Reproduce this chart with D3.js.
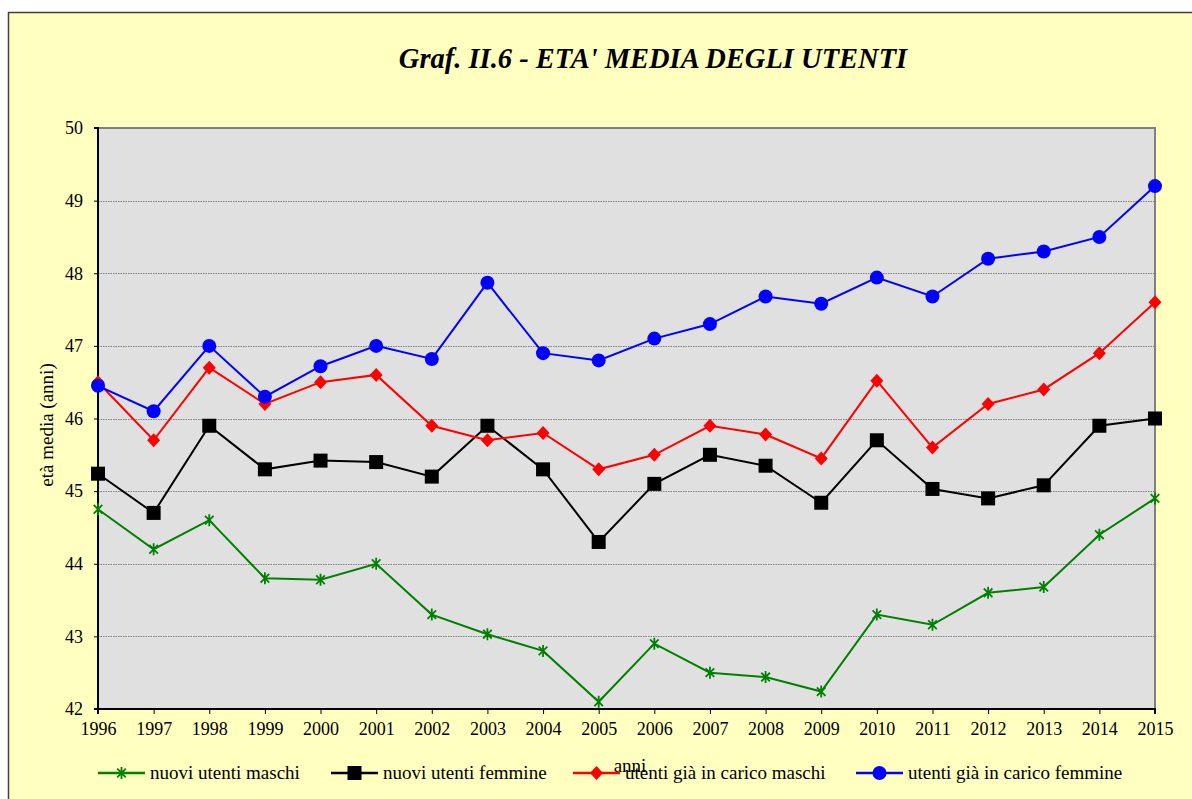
<!DOCTYPE html>
<html>
<head>
<meta charset="utf-8">
<script src="https://cdn.jsdelivr.net/npm/d3@7"></script>
<style>
  html, body { margin: 0; padding: 0; background: #fff; }
  svg { display: block; }
  text { font-family: "Liberation Serif", "Times New Roman", serif; fill: #000; }
</style>
</head>
<body>
<div id="chart"></div>
<script>
(function(d3) {
  'use strict';

  var years = [1996, 1997, 1998, 1999, 2000, 2001, 2002, 2003, 2004, 2005,
               2006, 2007, 2008, 2009, 2010, 2011, 2012, 2013, 2014, 2015];
  var yTicks = [42, 43, 44, 45, 46, 47, 48, 49, 50];

  var seriesNames = ['nuovi utenti maschi', 'nuovi utenti femmine',
                     'utenti già in carico maschi', 'utenti già in carico femmine'];

  var nuoviMaschi = [44.75, 44.2, 44.6, 43.8, 43.78, 44.0, 43.3, 43.03, 42.8, 42.1,
                     42.9, 42.5, 42.44, 42.24, 43.3, 43.16, 43.6, 43.68, 44.4, 44.9];
  var nuoviFemmine = [45.24, 44.7, 45.9, 45.3, 45.42, 45.4, 45.2, 45.9, 45.3, 44.3,
                      45.1, 45.5, 45.35, 44.84, 45.7, 45.03, 44.9, 45.08, 45.9, 46.0];
  var caricoMaschi = [46.5, 45.7, 46.7, 46.2, 46.5, 46.6, 45.9, 45.7, 45.8, 45.3,
                      45.5, 45.9, 45.78, 45.45, 46.52, 45.6, 46.2, 46.4, 46.9, 47.6];
  var caricoFemmine = [46.45, 46.1, 47.0, 46.3, 46.72, 47.0, 46.82, 47.87, 46.9, 46.8,
                       47.1, 47.3, 47.68, 47.58, 47.94, 47.68, 48.2, 48.3, 48.5, 49.2];

  var width = 1192;
  var height = 799;
  var margin = { top: 128, left: 98, right: 37, bottom: 90 };

  var series = [
    { name: seriesNames[0], values: nuoviMaschi, color: '#008000', symbol: 'star' },
    { name: seriesNames[1], values: nuoviFemmine, color: '#000000', symbol: 'square' },
    { name: seriesNames[2], values: caricoMaschi, color: '#ff0000', symbol: 'diamond' },
    { name: seriesNames[3], values: caricoFemmine, color: '#0000ff', symbol: 'circle' }
  ];

  var svg = d3.select('#chart')
    .append('svg')
    .attr('width', width)
    .attr('height', height);

  // chart frame
  svg.append('rect')
    .attr('x', 8.5)
    .attr('y', 12.5)
    .attr('width', width + 20)
    .attr('height', height + 20)
    .attr('fill', '#ffffc0')
    .attr('stroke', '#404040')
    .attr('stroke-width', 1.5);

  var x = d3.scaleLinear()
    .domain([1996, 2015])
    .range([margin.left, width - margin.right]);

  var y = d3.scaleLinear()
    .domain([42, 50])
    .range([height - margin.bottom, margin.top]);

  var x0 = x.range()[0], x1 = x.range()[1];
  var y0 = y.range()[0], y1 = y.range()[1];

  svg.append('rect')
    .attr('x', x0)
    .attr('y', y1)
    .attr('width', x1 - x0)
    .attr('height', y0 - y1)
    .attr('fill', '#e0e0e0');

  // gridlines
  svg.append('g')
    .selectAll('line')
    .data(yTicks.slice(1, -1))
    .enter()
    .append('line')
    .attr('x1', x0)
    .attr('x2', x1)
    .attr('y1', function(d) { return Math.round(y(d)) + 0.5; })
    .attr('y2', function(d) { return Math.round(y(d)) + 0.5; })
    .attr('stroke', '#808080')
    .attr('stroke-width', 1)
    .attr('stroke-dasharray', '1.5,1');

  // top and right border (gray)
  svg.append('path')
    .attr('d', 'M' + x0 + ',' + y1 + 'H' + x1 + 'V' + y0)
    .attr('fill', 'none')
    .attr('stroke', '#808080')
    .attr('stroke-width', 2);

  var xAxis = svg.append('g')
    .attr('transform', 'translate(0,' + y0 + ')')
    .call(d3.axisBottom(x)
      .tickValues(years)
      .tickFormat(d3.format('d'))
      .tickSize(5)
      .tickPadding(8));

  var yAxis = svg.append('g')
    .attr('transform', 'translate(' + x0 + ',0)')
    .call(d3.axisLeft(y)
      .tickValues(yTicks)
      .tickFormat(d3.format('d'))
      .tickSize(4)
      .tickPadding(11));

  [xAxis, yAxis].forEach(function(ax) {
    ax.select('.domain').attr('stroke', '#000').attr('stroke-width', 2);
    ax.selectAll('.tick line').attr('stroke', '#000').attr('stroke-width', 1);
    ax.selectAll('.tick text')
      .style('font-family', '"Liberation Serif", serif')
      .style('font-size', '18px')
      .attr('fill', '#000');
  });
  xAxis.select('.domain').attr('d', 'M' + x0 + ',5V0H' + x1 + 'V5');
  yAxis.select('.domain').attr('d', 'M-4,' + y1 + 'H0V' + y0 + 'H-4');

  function drawMarker(g, s, cx, cy) {
    if (s.symbol === 'star') {
      var r = 6;
      var a = 4.3;
      g.append('path')
        .attr('d', 'M' + (cx - a) + ',' + (cy - a) + 'L' + (cx + a) + ',' + (cy + a) +
          'M' + (cx - a) + ',' + (cy + a) + 'L' + (cx + a) + ',' + (cy - a) +
          'M' + cx + ',' + (cy - r) + 'V' + (cy + r))
        .attr('stroke', s.color)
        .attr('stroke-width', 1.8)
        .attr('fill', 'none');
    } else if (s.symbol === 'square') {
      g.append('rect')
        .attr('x', cx - 7)
        .attr('y', cy - 7)
        .attr('width', 14)
        .attr('height', 14)
        .attr('fill', s.color);
    } else if (s.symbol === 'diamond') {
      g.append('path')
        .attr('d', 'M' + cx + ',' + (cy - 7) + 'L' + (cx + 6.5) + ',' + cy +
          'L' + cx + ',' + (cy + 7) + 'L' + (cx - 6.5) + ',' + cy + 'Z')
        .attr('fill', s.color);
    } else {
      g.append('circle')
        .attr('cx', cx)
        .attr('cy', cy)
        .attr('r', 7)
        .attr('fill', s.color);
    }
  }

  var line = d3.line()
    .x(function(d, i) { return x(years[i]); })
    .y(function(d) { return y(d); });

  series.forEach(function(s) {
    var g = svg.append('g');
    g.append('path')
      .datum(s.values)
      .attr('d', line)
      .attr('fill', 'none')
      .attr('stroke', s.color)
      .attr('stroke-width', 2);
    s.values.forEach(function(v, i) {
      drawMarker(g, s, x(years[i]), y(v));
    });
  });

  // title
  svg.append('text')
    .attr('x', 653)
    .attr('y', 68)
    .attr('text-anchor', 'middle')
    .style('font-size', '28.5px')
    .style('font-weight', 'bold')
    .style('font-style', 'italic')
    .text("Graf. II.6 - ETA' MEDIA DEGLI UTENTI");

  // axis titles
  svg.append('text')
    .attr('transform', 'translate(53,' + 425 + ') rotate(-90)')
    .attr('text-anchor', 'middle')
    .style('font-size', '19px')
    .text('età media (anni)');

  svg.append('text')
    .attr('x', 630)
    .attr('y', 772)
    .attr('text-anchor', 'middle')
    .style('font-size', '19px')
    .text('anni');

  // legend
  var legendX = [98, 331, 573, 856];
  var legendY = 773;
  var legendLine = 47;

  var legend = svg.selectAll('.legend')
    .data(series)
    .enter()
    .append('g')
    .attr('class', 'legend');

  legend.each(function(s, i) {
    var g = d3.select(this);
    var lx = legendX[i];
    g.append('line')
      .attr('x1', lx)
      .attr('x2', lx + legendLine)
      .attr('y1', legendY)
      .attr('y2', legendY)
      .attr('stroke', s.color)
      .attr('stroke-width', 2.5);
    drawMarker(g, s, lx + legendLine / 2, legendY);
    g.append('text')
      .attr('x', lx + legendLine + 5)
      .attr('y', legendY + 6)
      .style('font-size', '19px')
      .text(s.name);
  });

})(window.d3);
</script>
</body>
</html>
